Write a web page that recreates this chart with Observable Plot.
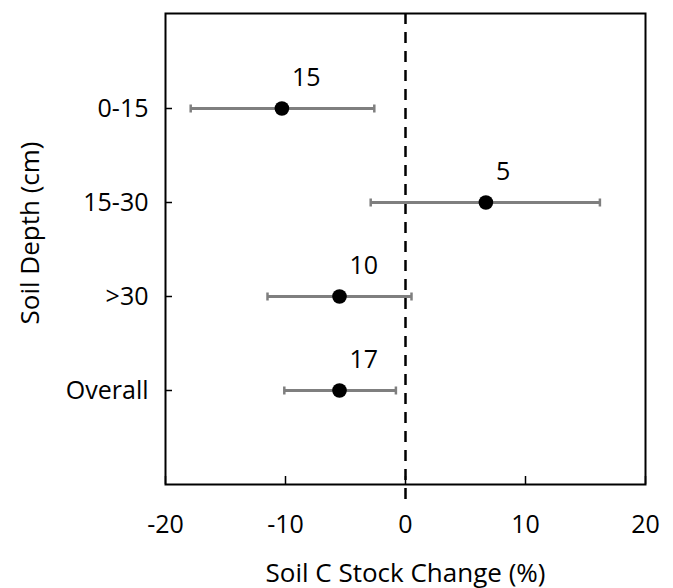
<!DOCTYPE html>
<html><head><meta charset="utf-8">
<script src="https://cdn.jsdelivr.net/npm/d3@7"></script>
<script src="https://cdn.jsdelivr.net/npm/@observablehq/plot@0.6"></script>
<style>body{margin:0;background:#fff}</style>
</head><body><div id="chart"></div>
<script>
const depths = ["0-15", "15-30", ">30", "Overall"];
const means = [-10.3, 6.7, -5.5, -5.5];
const lows = [-17.9, -2.9, -11.5, -10.1];
const highs = [-2.6, 16.2, 0.5, -0.8];
const counts = ["15", "5", "10", "17"];
const xTicks = [-20, -10, 0, 10, 20];

const rows = depths.map((d, i) => ({depth: d, mean: means[i], low: lows[i], high: highs[i], n: counts[i]}));

// vertical-line symbol for error bar caps
const capSymbol = {
  draw(ctx, size) {
    const r = Math.sqrt(size / Math.PI);
    ctx.moveTo(0, -r);
    ctx.lineTo(0, r);
  }
};

const chart = Plot.plot({
  width: 673, height: 588,
  marginLeft: 165, marginRight: 28, marginTop: 13, marginBottom: 104,
  style: {fontFamily: "'Open Sans', sans-serif", fontSize: "25px", color: "black", background: "white"},
  x: {domain: [-20, 20]},
  y: {type: "point", domain: depths, padding: 1},
  marks: [
    Plot.axisX({ticks: xTicks, tickFormat: d => String(d), tickSize: -8, tickPadding: 39, label: null, strokeWidth: 1.5, fontSize: 25}),
    Plot.axisY({tickSize: -7, tickPadding: 24, label: null, strokeWidth: 1.5, fontSize: 25}),
    Plot.ruleX([0], {stroke: "black", strokeWidth: 2.5, strokeDasharray: "11,8", insetBottom: -19}),
    Plot.ruleY(rows, {y: "depth", x1: "low", x2: "high", stroke: "#7f7f7f", strokeWidth: 3}),
    Plot.dot(rows, {x: "low", y: "depth", symbol: capSymbol, r: 4, stroke: "#7f7f7f", strokeWidth: 2.5, fill: "none"}),
    Plot.dot(rows, {x: "high", y: "depth", symbol: capSymbol, r: 4, stroke: "#7f7f7f", strokeWidth: 2.5, fill: "none"}),
    Plot.dot(rows, {x: "mean", y: "depth", r: 7.3, fill: "black"}),
    Plot.text(rows, {x: "mean", y: "depth", text: "n", textAnchor: "start", dx: 10, dy: -31, fontSize: 25}),
    Plot.frame({stroke: "black", strokeWidth: 2}),
    Plot.text(["Soil C Stock Change (%)"], {text: d => d, frameAnchor: "bottom", textAnchor: "middle", dy: 97, fontSize: 26}),
    Plot.text(["Soil Depth (cm)"], {text: d => d, frameAnchor: "left", textAnchor: "middle", rotate: -90, dx: -135, dy: -16, fontSize: 26})
  ]
});
document.getElementById("chart").appendChild(chart);
</script>
</body></html>
